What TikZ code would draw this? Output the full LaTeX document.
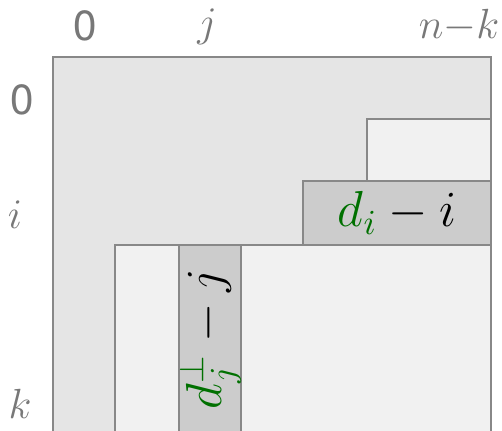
\documentclass[tikz,border=0pt]{standalone}
\usepackage{fontspec}
\newfontfamily\headfont{TeX Gyre Heros}
\usepackage{tikz}

\definecolor{edgegray}{RGB}{136,136,136}
\definecolor{lblgray}{RGB}{120,120,120}
\definecolor{fillmid}{RGB}{229,229,229}
\definecolor{filllight}{RGB}{241,241,241}
\definecolor{filldark}{RGB}{204,204,204}
\definecolor{dgreen}{RGB}{0,112,0}

\tikzset{
  block/.style={draw=edgegray, line width=0.65pt},
  axislbl/.style={text=lblgray, inner sep=0.75pt, font=\large},
  barlbl/.style={inner sep=0.75pt, font=\fontsize{13.6}{16}\selectfont}
}

\begin{document}
\begin{tikzpicture}[x=0.2845pt,y=0.2845pt,yscale=-1,xscale=1]
    \clip (0,0) rectangle (502,431);
    % blocks, back to front
    \draw [block, fill=fillmid]   (53,57) rectangle (491,445);
    \draw [block, fill=filllight] (367,119) rectangle (491,181);
    \draw [block, fill=filldark]  (303,181) rectangle (491,245);
    \draw [block, fill=filllight] (115,245) rectangle (491,445);
    \draw [block, fill=filldark]  (179,245) rectangle (241,445);
    % column and row labels
    \node (c0) [axislbl] at (85,26) {\headfont 0};
    \node (cj) [axislbl] at (207,27) {$j$};
    \node (cnk) [axislbl] at (459,26) {$n{-}k$};
    \node (r0) [axislbl] at (22,100) {\headfont 0};
    \node (ri) [axislbl] at (15,215) {$i$};
    \node (rk) [axislbl] at (20,404) {$k$};
    % bar labels
    \node (di) [barlbl] at (397,213) {$\textcolor{dgreen}{d_i}-i$};
    \node (dj) [barlbl, rotate=90] at (210,339) {$\textcolor{dgreen}{d_j^{\perp}}-j$};
\end{tikzpicture}
\end{document}
